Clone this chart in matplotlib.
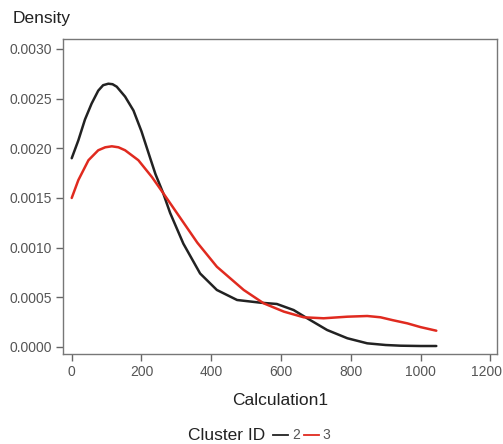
import matplotlib
matplotlib.use("Agg")
import matplotlib.pyplot as plt
from matplotlib.lines import Line2D
from matplotlib.transforms import ScaledTranslation

reg = "Liberation Sans"

# Cluster 2 (black)
x2 = [0, 19, 38, 57, 76, 90, 105, 117, 129, 153, 177, 200, 225, 240, 262, 282, 320, 368, 416, 474,
      541, 588, 636, 675, 732, 790, 847, 900, 943, 1000, 1045]
y2 = [0.00190, 0.00208, 0.00229, 0.00245, 0.00258, 0.002635, 0.002650, 0.002645, 0.00262,
      0.00252, 0.00238, 0.00217, 0.00190, 0.00174, 0.00155, 0.00135, 0.00104, 0.00074,
      0.000574, 0.000473, 0.000446, 0.000433, 0.000372, 0.000289, 0.000171, 0.000088,
      0.000037, 0.00002, 0.000013, 0.00001, 0.00001]
# Cluster 3 (red)
x3 = [0, 19, 48, 76, 96, 115, 134, 153, 191, 230, 262, 311, 360, 416, 493, 550, 608, 665, 722, 790,
      847, 885, 920, 962, 1000, 1045]
y3 = [0.00150, 0.00168, 0.00188, 0.00198, 0.00201, 0.00202, 0.00201, 0.00198, 0.00188,
      0.00171, 0.00155, 0.00130, 0.00105, 0.000808, 0.000574, 0.00044, 0.000356, 0.000299,
      0.000289, 0.000305, 0.000312, 0.000299, 0.00027, 0.000238, 0.00020, 0.000164]

xticks = [0, 200, 400, 600, 800, 1000, 1200]
yticks = [0.0, 0.0005, 0.0010, 0.0015, 0.0020, 0.0025, 0.0030]

W, H = 503, 444
fig = plt.figure(figsize=(W / 100, H / 100), dpi=100)
ax = fig.add_axes([63 / W, 1 - 354 / H, (497 - 63) / W, (354 - 39) / H])

ax.plot(x2, y2, color="#222222", lw=1.8, solid_capstyle="round", solid_joinstyle="round")
ax.plot(x3, y3, color="#e02a1f", lw=1.8, solid_capstyle="round", solid_joinstyle="round")

ax.set_xlim(-25, 1219)
ax.set_ylim(-0.0000705, 0.0031)
ax.set_xticks(xticks)
ax.set_yticks(yticks)
ax.set_xticklabels([str(v) for v in xticks], fontfamily=reg, fontsize=10, color="#555555")
ax.set_yticklabels([f"{v:.4f}" for v in yticks], fontfamily=reg, fontsize=10, color="#555555")
ax.tick_params(axis="both", direction="out", length=5, width=1, color="#666666", pad=3)
lab = ax.get_xticklabels()[-1]
lab.set_transform(lab.get_transform() + ScaledTranslation(-4 / 100, 0, fig.dpi_scale_trans))
for s in ax.spines.values():
    s.set_color("#777777")
    s.set_linewidth(1)

fig.text(13 / W, 1 - 19 / H, "Density", fontfamily=reg, fontsize=12.5, color="#222222",
         ha="left", va="center")
fig.text(280 / W, 1 - 400 / H, "Calculation1", fontfamily=reg, fontsize=12.5, color="#222222",
         ha="center", va="center")

ly = 1 - 435 / H
fig.text(188 / W, ly, "Cluster ID", fontfamily=reg, fontsize=12.5, color="#222222",
         ha="left", va="center")
fig.add_artist(Line2D([273 / W, 288 / W], [ly, ly], transform=fig.transFigure,
                      color="#222222", lw=1.3))
fig.text(292 / W, ly, "2", fontfamily=reg, fontsize=10, color="#555555",
         ha="left", va="center")
fig.add_artist(Line2D([304 / W, 319 / W], [ly, ly], transform=fig.transFigure,
                      color="#e02a1f", lw=1.3))
fig.text(322 / W, ly, "3", fontfamily=reg, fontsize=10, color="#555555",
         ha="left", va="center")

fig.savefig("out.png", dpi=100)
